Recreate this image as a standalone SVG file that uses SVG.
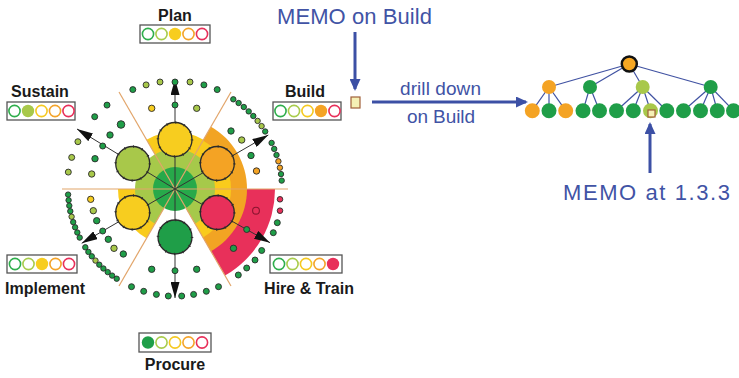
<svg xmlns="http://www.w3.org/2000/svg" width="739" height="378" viewBox="0 0 739 378">
<defs>
<style>
.lbl{font-family:"Liberation Sans",Arial,sans-serif;font-weight:bold;font-size:16px;fill:#1a1a1a;text-anchor:middle}
.blue{font-family:"Liberation Sans",Arial,sans-serif;fill:#4153a5}
.box{fill:#fff;stroke:#555;stroke-width:1.3}
.g{fill:#1f9e48}.lg{fill:#a8c84a}.y{fill:#f7cd1f}.o{fill:#f4a324}.r{fill:#e8305a}
.d{stroke:#2a2a2a;stroke-width:0.9}
.big{stroke:#2b2b2b;stroke-width:1.3}
.tick{fill:none;stroke:#2b2b2b;stroke-width:2.6;stroke-dasharray:0.9 7.99}
.sg{fill:none;stroke:#2fae4c;stroke-width:1.6}.slg{fill:none;stroke:#a9cc4c;stroke-width:1.6}.sy{fill:none;stroke:#f5c921;stroke-width:1.6}.so{fill:none;stroke:#f4a42a;stroke-width:1.6}.sr{fill:none;stroke:#e8305a;stroke-width:1.6}
.sec{stroke:#e2a56a;stroke-width:1.2}
.spoke{stroke:#333;stroke-width:1;fill:none}
.barrow{stroke:#3c50a5;stroke-width:3;fill:none}
.tedge{stroke:#4052a2;stroke-width:1.2}
.memo{fill:#f5f0b5;stroke:#a0603a;stroke-width:1.2}
</style>
<marker id="ah" markerUnits="userSpaceOnUse" markerWidth="16" markerHeight="9" refX="16" refY="4.5" orient="auto"><path d="M0,0 L16,4.5 L0,9 Z" fill="#111"/></marker>
<marker id="bh" markerUnits="userSpaceOnUse" markerWidth="12" markerHeight="11" refX="10" refY="5.5" orient="auto"><path d="M0,0 L12,5.5 L0,11 Z" fill="#3c50a5"/></marker>
</defs>
<rect width="739" height="378" fill="#fff"/>

<g id="radial-chart">
<path d="M175,189 L225,275.6 A100,100 0 0 0 275,189 Z" fill="#e8305a"/>
<path d="M175,189 L211,251.35 A72,72 0 0 0 211,126.65 Z" fill="#f2a423"/>
<path d="M175,189 L203,237.5 A56,56 0 0 0 203,140.5 Z" fill="#f9cb1c"/>
<path d="M175,189 L203.5,139.64 A57,57 0 0 0 146.5,139.64 Z" fill="#f9cb1c"/>
<path d="M175,189 L118,189 A57,57 0 0 0 146.5,238.36 Z" fill="#f9cb1c"/>
<path d="M175,189 L195,223.64 A40,40 0 1 0 155,223.64 Z" fill="#a6c94a"/>
<circle cx="175" cy="189" r="22" fill="#27a94a"/>
<line class="sec" x1="62" y1="189" x2="288" y2="189"/>
<line class="sec" x1="231" y1="92" x2="119" y2="286"/>
<line class="sec" x1="119" y1="92" x2="231" y2="286"/>
</g>

<g id="connectors">
<line class="spoke" x1="175" y1="189" x2="175" y2="79" marker-end="url(#ah)"/>
<line class="spoke" x1="175" y1="189" x2="175" y2="298" marker-end="url(#ah)"/>
<line class="spoke" x1="175" y1="189" x2="77" y2="129" marker-end="url(#ah)"/>
<line class="spoke" x1="175" y1="189" x2="268.3" y2="135" marker-end="url(#ah)"/>
<line class="spoke" x1="175" y1="189" x2="81.7" y2="243.3" marker-end="url(#ah)"/>
<line class="spoke" x1="175" y1="189" x2="270" y2="242.7" marker-end="url(#ah)"/>
<line class="barrow" x1="355" y1="32" x2="355" y2="89" marker-end="url(#bh)"/>
<line class="barrow" x1="372" y1="102" x2="526" y2="102" marker-end="url(#bh)"/>
<line class="barrow" x1="650" y1="173" x2="650" y2="124" marker-end="url(#bh)"/>
<line class="tedge" x1="629.3" y1="64" x2="549" y2="87"/>
<line class="tedge" x1="629.3" y1="64" x2="590" y2="87"/>
<line class="tedge" x1="629.3" y1="64" x2="642.7" y2="87"/>
<line class="tedge" x1="629.3" y1="64" x2="710.7" y2="87"/>
<line class="tedge" x1="549" y1="87" x2="532.3" y2="110.7"/>
<line class="tedge" x1="549" y1="87" x2="549" y2="110.7"/>
<line class="tedge" x1="549" y1="87" x2="565.7" y2="110.7"/>
<line class="tedge" x1="590" y1="87" x2="583" y2="110.7"/>
<line class="tedge" x1="590" y1="87" x2="599.5" y2="110.7"/>
<line class="tedge" x1="642.7" y1="87" x2="616.5" y2="110.7"/>
<line class="tedge" x1="642.7" y1="87" x2="633.3" y2="110.7"/>
<line class="tedge" x1="642.7" y1="87" x2="650.5" y2="110.7"/>
<line class="tedge" x1="642.7" y1="87" x2="666.8" y2="110.7"/>
<line class="tedge" x1="710.7" y1="87" x2="683.5" y2="110.7"/>
<line class="tedge" x1="710.7" y1="87" x2="700.5" y2="110.7"/>
<line class="tedge" x1="710.7" y1="87" x2="717.3" y2="110.7"/>
<line class="tedge" x1="710.7" y1="87" x2="733.5" y2="110.7"/>
</g>

<g id="hub-plan"><circle class="big y" cx="175" cy="139.5" r="17"/><circle class="tick" cx="175" cy="139.5" r="17"/></g>
<g id="hub-sustain"><circle class="big lg" cx="132.7" cy="163.5" r="17"/><circle class="tick" cx="132.7" cy="163.5" r="17"/></g>
<g id="hub-build"><circle class="big o" cx="217.3" cy="163.5" r="17"/><circle class="tick" cx="217.3" cy="163.5" r="17"/></g>
<g id="hub-implement"><circle class="big y" cx="132.7" cy="212.5" r="17"/><circle class="tick" cx="132.7" cy="212.5" r="17"/></g>
<g id="hub-hire"><circle class="big r" cx="217.3" cy="212.5" r="17"/><circle class="tick" cx="217.3" cy="212.5" r="17"/></g>
<g id="hub-procure"><circle class="big g" cx="175" cy="237" r="17"/><circle class="tick" cx="175" cy="237" r="17"/></g>

<g id="dots">
<circle class="d g" cx="132.8" cy="89.6" r="3"/>
<circle class="d lg" cx="146.1" cy="84.9" r="3"/>
<circle class="d lg" cx="160" cy="82" r="3"/>
<circle class="d g" cx="175" cy="82" r="3"/>
<circle class="d lg" cx="190" cy="82" r="3"/>
<circle class="d g" cx="203.9" cy="84.9" r="3"/>
<circle class="d g" cx="217.2" cy="89.6" r="3"/>
<circle class="d y" cx="151.7" cy="108.3" r="3.2"/>
<circle class="d g" cx="175" cy="105" r="3"/>
<circle class="d lg" cx="196.7" cy="108.3" r="3.2"/>
<circle class="d g" cx="233.3" cy="99.3" r="2.7"/>
<circle class="d g" cx="238.6" cy="103" r="2.7"/>
<circle class="d g" cx="243.8" cy="107" r="2.7"/>
<circle class="d g" cx="248.7" cy="111.4" r="2.7"/>
<circle class="d g" cx="253.3" cy="116" r="2.7"/>
<circle class="d lg" cx="257.6" cy="120.9" r="2.7"/>
<circle class="d lg" cx="261.6" cy="126.1" r="2.7"/>
<circle class="d g" cx="265.2" cy="131.5" r="2.7"/>
<circle class="d g" cx="271.6" cy="142.9" r="2.7"/>
<circle class="d g" cx="274.2" cy="148.9" r="2.7"/>
<circle class="d g" cx="276.5" cy="155" r="2.7"/>
<circle class="d o" cx="278.4" cy="161.3" r="2.7"/>
<circle class="d o" cx="279.9" cy="167.7" r="2.7"/>
<circle class="d g" cx="281" cy="174.1" r="2.7"/>
<circle class="d g" cx="281.7" cy="180.6" r="2.7"/>
<circle class="d g" cx="231" cy="131" r="3.2"/>
<circle class="d lg" cx="241.7" cy="140" r="3.2"/>
<circle class="d g" cx="251" cy="155.5" r="3.2"/>
<circle class="d o" cx="256.5" cy="171" r="3.2"/>
<circle class="d g" cx="107" cy="105.1" r="3"/>
<circle class="d g" cx="94.7" cy="116.7" r="3"/>
<circle class="d lg" cx="77.9" cy="141.7" r="3"/>
<circle class="d lg" cx="71.7" cy="157.4" r="3"/>
<circle class="d lg" cx="68.3" cy="172.1" r="3"/>
<circle class="d g" cx="121" cy="124.5" r="3.8"/>
<circle class="d g" cx="110" cy="135" r="3.2"/>
<circle class="d g" cx="102.7" cy="146" r="3"/>
<circle class="d g" cx="95" cy="158.7" r="3.2"/>
<circle class="d lg" cx="91.7" cy="174" r="3.2"/>
<circle class="d g" cx="68.1" cy="194.6" r="2.7"/>
<circle class="d g" cx="68.6" cy="200.2" r="2.7"/>
<circle class="d g" cx="69.3" cy="205.7" r="2.7"/>
<circle class="d g" cx="70.3" cy="211.2" r="2.7"/>
<circle class="d lg" cx="71.6" cy="216.7" r="2.7"/>
<circle class="d g" cx="73.2" cy="222.1" r="2.7"/>
<circle class="d g" cx="75.1" cy="227.3" r="2.7"/>
<circle class="d g" cx="77.3" cy="232.5" r="2.7"/>
<circle class="d g" cx="79.7" cy="237.6" r="2.7"/>
<circle class="d g" cx="85.3" cy="247.3" r="2.7"/>
<circle class="d g" cx="88.4" cy="251.9" r="2.7"/>
<circle class="d g" cx="91.8" cy="256.3" r="2.7"/>
<circle class="d lg" cx="95.5" cy="260.6" r="2.7"/>
<circle class="d g" cx="99.3" cy="264.7" r="2.7"/>
<circle class="d g" cx="103.4" cy="268.5" r="2.7"/>
<circle class="d g" cx="107.7" cy="272.1" r="2.7"/>
<circle class="d g" cx="112.1" cy="275.6" r="2.7"/>
<circle class="d g" cx="116.7" cy="278.7" r="2.7"/>
<circle class="d y" cx="90.7" cy="199.3" r="3.2"/>
<circle class="d lg" cx="93.3" cy="210.7" r="3.2"/>
<circle class="d g" cx="96.7" cy="220.7" r="3.2"/>
<circle class="d g" cx="102.7" cy="231" r="3"/>
<circle class="d g" cx="108.3" cy="239.3" r="3.2"/>
<circle class="d lg" cx="114" cy="248.3" r="3.2"/>
<circle class="d g" cx="123.3" cy="254" r="3.2"/>
<circle class="d g" cx="151.7" cy="269.3" r="3.2"/>
<circle class="d g" cx="175" cy="270.7" r="3"/>
<circle class="d g" cx="196.7" cy="269.3" r="3.2"/>
<circle class="d g" cx="131.5" cy="286.7" r="3"/>
<circle class="d g" cx="143.7" cy="291.3" r="3"/>
<circle class="d g" cx="156.4" cy="294.4" r="3"/>
<circle class="d g" cx="168.3" cy="296" r="3"/>
<circle class="d g" cx="181.7" cy="296" r="3"/>
<circle class="d g" cx="193.6" cy="294.4" r="3"/>
<circle class="d g" cx="206.3" cy="291.3" r="3"/>
<circle class="d g" cx="218.5" cy="286.7" r="3"/>
<circle class="d r" cx="280" cy="199.3" r="2.8"/>
<circle class="d r" cx="280" cy="210.7" r="2.8"/>
<circle class="d g" cx="277.3" cy="222.7" r="3"/>
<circle class="d g" cx="273.3" cy="232.7" r="3"/>
<circle class="d g" cx="261.7" cy="250.5" r="3"/>
<circle class="d g" cx="255" cy="260" r="3"/>
<circle class="d g" cx="246.7" cy="268" r="3"/>
<circle class="d g" cx="238.3" cy="275" r="3"/>
<circle class="r" cx="256" cy="210.7" r="3.4" stroke="#8a1530" stroke-width="1.1"/>
<circle class="d g" cx="246.7" cy="229.5" r="3"/>
<circle class="d g" cx="233.5" cy="248.3" r="3.2"/>
</g>

<g id="plan">
<text class="lbl" x="175" y="21">Plan</text>
<rect class="box" x="140" y="25" width="70" height="18"/>
<circle class="sg" cx="148" cy="34" r="5.6"/><circle class="slg" cx="161.5" cy="34" r="5.6"/><circle class="y" cx="175" cy="34" r="6.2"/><circle class="so" cx="188.5" cy="34" r="5.6"/><circle class="sr" cx="202" cy="34" r="5.6"/>
</g>
<g id="sustain">
<text class="lbl" x="40" y="97">Sustain</text>
<rect class="box" x="7" y="102" width="68" height="18"/>
<circle class="sg" cx="14.5" cy="111" r="5.6"/><circle class="lg" cx="28" cy="111" r="6.2"/><circle class="sy" cx="41.5" cy="111" r="5.6"/><circle class="so" cx="55" cy="111" r="5.6"/><circle class="sr" cx="68.5" cy="111" r="5.6"/>
</g>
<g id="build">
<text class="lbl" x="305" y="97">Build</text>
<rect class="box" x="273" y="102" width="68" height="18"/>
<circle class="sg" cx="280.5" cy="111" r="5.6"/><circle class="slg" cx="294" cy="111" r="5.6"/><circle class="sy" cx="307.5" cy="111" r="5.6"/><circle class="o" cx="321" cy="111" r="6.2"/><circle class="sr" cx="334.5" cy="111" r="5.6"/>
</g>
<g id="implement">
<rect class="box" x="7" y="255" width="70" height="18"/>
<circle class="sg" cx="15" cy="264" r="5.6"/><circle class="slg" cx="28.5" cy="264" r="5.6"/><circle class="y" cx="42" cy="264" r="6.2"/><circle class="so" cx="55.5" cy="264" r="5.6"/><circle class="sr" cx="69" cy="264" r="5.6"/>
<text class="lbl" x="45" y="294">Implement</text>
</g>
<g id="hire-train">
<rect class="box" x="270" y="255" width="72" height="18"/>
<circle class="sg" cx="279" cy="264" r="5.6"/><circle class="slg" cx="292.5" cy="264" r="5.6"/><circle class="sy" cx="306" cy="264" r="5.6"/><circle class="so" cx="319.5" cy="264" r="5.6"/><circle class="r" cx="333" cy="264" r="6.2"/>
<text class="lbl" x="309" y="294">Hire &amp; Train</text>
</g>
<g id="procure">
<rect class="box" x="139" y="333" width="72" height="19"/>
<circle class="g" cx="148" cy="342.5" r="6.2"/><circle class="slg" cx="161.5" cy="342.5" r="5.6"/><circle class="sy" cx="175" cy="342.5" r="5.6"/><circle class="so" cx="188.5" cy="342.5" r="5.6"/><circle class="sr" cx="202" cy="342.5" r="5.6"/>
<text class="lbl" x="175" y="370">Procure</text>
</g>

<g id="memo-build">
<text class="blue" x="277" y="23.5" font-size="22" textLength="155" lengthAdjust="spacing">MEMO on Build</text>
<rect class="memo" x="351" y="97" width="9" height="11"/>
</g>
<g id="drill-label">
<text class="blue" x="400" y="95" font-size="19" textLength="81" lengthAdjust="spacing">drill down</text>
<text class="blue" x="407" y="123" font-size="19" textLength="68" lengthAdjust="spacing">on Build</text>
</g>

<g id="tree">
<circle cx="629.3" cy="64" r="7.5" fill="#f5a623" stroke="#111" stroke-width="2.5"/>
<circle class="o" cx="549" cy="87" r="7"/>
<circle class="g" cx="590" cy="87" r="7"/>
<circle class="lg" cx="642.7" cy="87" r="7"/>
<circle class="g" cx="710.7" cy="87" r="7"/>
<circle class="o" cx="532.3" cy="110.7" r="7.5"/>
<circle class="g" cx="549" cy="110.7" r="7.5"/>
<circle class="o" cx="565.7" cy="110.7" r="7.5"/>
<circle class="g" cx="583" cy="110.7" r="7.5"/>
<circle class="g" cx="599.5" cy="110.7" r="7.5"/>
<circle class="g" cx="616.5" cy="110.7" r="7.5"/>
<circle class="g" cx="633.3" cy="110.7" r="7.5"/>
<circle class="lg" cx="650.5" cy="110.7" r="7.5"/>
<circle class="g" cx="666.8" cy="110.7" r="7.5"/>
<circle class="g" cx="683.5" cy="110.7" r="7.5"/>
<circle class="g" cx="700.5" cy="110.7" r="7.5"/>
<circle class="g" cx="717.3" cy="110.7" r="7.5"/>
<circle class="g" cx="733.5" cy="110.7" r="7.5"/>
<rect class="memo" x="648" y="110" width="7" height="7"/>
</g>
<g id="memo-133">
<text class="blue" x="563" y="199.5" font-size="22" textLength="167" lengthAdjust="spacing">MEMO at 1.3.3</text>
</g>
</svg>
